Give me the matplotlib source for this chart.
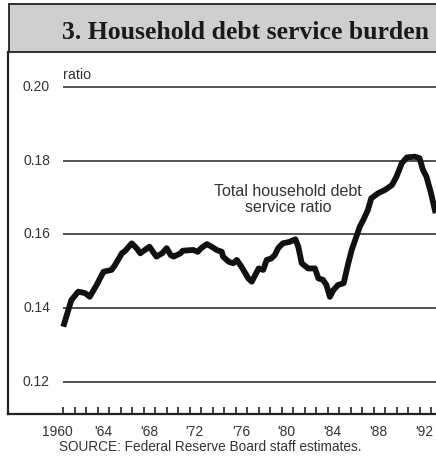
import matplotlib
matplotlib.use("Agg")
import matplotlib.pyplot as plt
from matplotlib.patches import Rectangle
from matplotlib.transforms import blended_transform_factory

# ---- data ----
years = [1960.0, 1960.7, 1961.3, 1961.9, 1962.3, 1962.9, 1963.5, 1964.2, 1964.5, 1965.1,
         1965.4, 1965.95, 1966.4, 1966.7, 1967.1, 1967.5, 1968.1, 1968.6, 1969.0, 1969.35,
         1969.6, 1970.2, 1970.4, 1971.3, 1971.7, 1972.0, 1972.5, 1972.9, 1973.35, 1973.8,
         1973.9, 1974.4, 1974.8, 1975.1, 1975.5, 1976.1, 1976.4, 1976.7, 1977.0, 1977.4,
         1977.7, 1978.1, 1978.4, 1978.7, 1979.1, 1979.7, 1980.2, 1980.45, 1980.75, 1981.3,
         1981.9, 1982.2, 1982.6, 1982.9, 1983.2, 1983.5, 1983.9, 1984.4, 1984.8, 1985.1,
         1985.4, 1985.8, 1986.1, 1986.5, 1986.8, 1987.4, 1988.0, 1988.6, 1989.0, 1989.45,
         1989.9, 1990.6, 1991.0, 1991.3, 1991.6, 1992.0, 1992.4]
debt_ratio = [0.1350, 0.1422, 0.1445, 0.1441, 0.1431, 0.1463, 0.1499, 0.1504, 0.1517, 0.1549,
              0.1556, 0.1576, 0.1562, 0.1549, 0.1558, 0.1567, 0.1540, 0.1549, 0.1563, 0.1544,
              0.1540, 0.1549, 0.1556, 0.1558, 0.1553, 0.1563, 0.1574, 0.1567, 0.1558, 0.1553,
              0.1540, 0.1526, 0.1522, 0.1531, 0.1513, 0.1481, 0.1472, 0.1490, 0.1508, 0.1504,
              0.1531, 0.1535, 0.1544, 0.1563, 0.1576, 0.1580, 0.1587, 0.1567, 0.1522, 0.1508,
              0.1508, 0.1481, 0.1477, 0.1463, 0.1431, 0.1449, 0.1463, 0.1468, 0.1522, 0.1558,
              0.1585, 0.1621, 0.1639, 0.1666, 0.1698, 0.1712, 0.1721, 0.1734, 0.1757, 0.1793,
              0.1809, 0.1811, 0.1807, 0.1775, 0.1757, 0.1712, 0.1658]

y_gridlines = [0.12, 0.14, 0.16, 0.18, 0.20]
y_ticklabels = ["0.12", "0.14", "0.16", "0.18", "0.20"]
x_label_years = [1960, 1964, 1968, 1972, 1976, 1980, 1984, 1988, 1992]
x_ticklabels = ["1960", "'64", "'68", "'72", "'76", "'80", "'84", "'88", "'92"]
title = "3. Household debt service burden"
series_label = "Total household debt\nservice ratio"
unit_label = "ratio"
source = "SOURCE: Federal Reserve Board staff estimates."

# ---- figure ----
W, H = 436, 457
plt.rcParams['font.family'] = ['Liberation Sans', 'DejaVu Sans']
fig = plt.figure(figsize=(W / 100, H / 100), dpi=100)
fig.patch.set_facecolor('white')

def fx(px):
    return px / W

def fy(py):
    return 1 - py / H

txt_col = '#333333'

ax = fig.add_axes([fx(8), fy(414), fx(444) - fx(8), fy(52) - fy(414)])
ax.set_xlim(1955.19, 1993.13)
ax.set_ylim(0.11132, 0.20949)

ax.hlines(y_gridlines, 1960, 1993.13, colors='#222222', linewidth=1.1, zorder=1)
ax.plot(years, debt_ratio, color='#111111', linewidth=4.2, solid_joinstyle='round',
        solid_capstyle='butt', zorder=3)

for v, lab in zip(y_gridlines, y_ticklabels):
    ax.text(1958.84, v, lab, ha='right', va='center', fontsize=10, color=txt_col)
ax.text(1960.0, 0.20325, unit_label, ha='left', va='center', fontsize=10.3, color=txt_col)
ax.text(1979.55, 0.16950, series_label, ha='center', va='center', fontsize=11.5,
        color=txt_col, linespacing=1.1)

ax.set_yticks([])
ax.set_xticks(list(range(1960, 1994)))
ax.set_xticklabels([])
ax.tick_params(axis='x', direction='in', length=5, width=1.2, color='#222222')
for s in ['top', 'right']:
    ax.spines[s].set_visible(False)
for s in ['left', 'bottom']:
    ax.spines[s].set_linewidth(1.6)
    ax.spines[s].set_color('#222222')

trans = blended_transform_factory(ax.transData, fig.transFigure)
for yr, lab in zip(x_label_years, x_ticklabels):
    ax.text(yr - 0.55, fy(432), lab, transform=trans, ha='center', va='center',
            fontsize=10, color=txt_col)

fig.text(fx(59), fy(447), source, ha='left', va='center', fontsize=9.85, color=txt_col)

# title box
fig.add_artist(Rectangle((fx(9), fy(52)), fx(440) - fx(9), fy(4) - fy(52),
                         transform=fig.transFigure, facecolor='#cfcfcf',
                         edgecolor='#222222', linewidth=1.3))
fig.text(fx(246), fy(32.5), title, ha='center', va='center', fontsize=18.5,
         fontweight='bold', family='Liberation Serif', color='#1a1a1a')

fig.savefig('out.png', dpi=100)
